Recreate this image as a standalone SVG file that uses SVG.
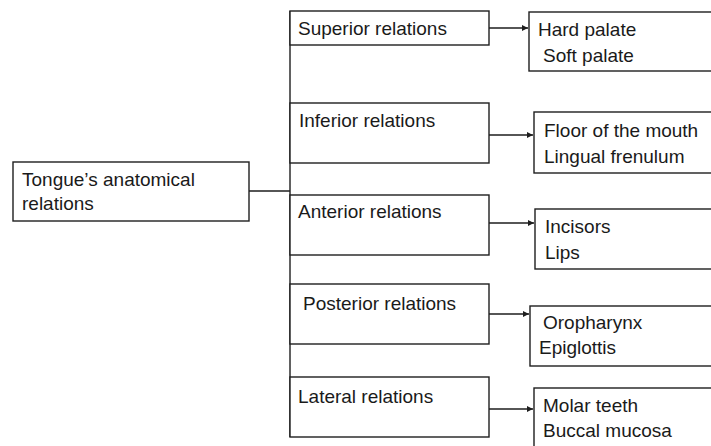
<svg xmlns="http://www.w3.org/2000/svg" width="711" height="446" viewBox="0 0 711 446">
<style>
.box{fill:#fff;stroke:#1e1e1e;stroke-width:1.4}
.t{font-family:"Liberation Sans",Arial,sans-serif;font-size:19px;fill:#1a1a1a}
.c{fill:none;stroke:#1e1e1e;stroke-width:1.4}
</style>
<defs>
<marker id="ah" markerWidth="8" markerHeight="8" refX="6" refY="3" orient="auto" markerUnits="userSpaceOnUse">
<path d="M0,0 L6,3 L0,6 Z" fill="#1e1e1e"/>
</marker>
</defs>
<rect width="711" height="446" fill="#fff"/>
<g id="connectors">
<path class="c" d="M249,191 H290"/>
<path class="c" d="M290,11 V437"/>
<path class="c" d="M489,28 H528" marker-end="url(#ah)"/>
<path class="c" d="M489,135 H533" marker-end="url(#ah)"/>
<path class="c" d="M489,223 H534" marker-end="url(#ah)"/>
<path class="c" d="M489,314 H529" marker-end="url(#ah)"/>
<path class="c" d="M489,409 H533" marker-end="url(#ah)"/>
</g>
<g id="root">
<rect class="box" x="13" y="162" width="236" height="59"/>
<text class="t" x="22" y="186">Tongue’s anatomical</text>
<text class="t" x="22" y="210">relations</text>
</g>
<g id="superior">
<rect class="box" x="290" y="11" width="199" height="34"/>
<text class="t" x="298" y="35">Superior relations</text>
</g>
<g id="inferior">
<rect class="box" x="290" y="103" width="199" height="60"/>
<text class="t" x="299" y="127">Inferior relations</text>
</g>
<g id="anterior">
<rect class="box" x="290" y="195" width="199" height="60"/>
<text class="t" x="298" y="218">Anterior relations</text>
</g>
<g id="posterior">
<rect class="box" x="290" y="284" width="199" height="60"/>
<text class="t" x="303" y="310">Posterior relations</text>
</g>
<g id="lateral">
<rect class="box" x="290" y="377" width="199" height="60"/>
<text class="t" x="298" y="403">Lateral relations</text>
</g>
<g id="palate">
<rect class="box" x="529" y="12" width="190" height="59"/>
<text class="t" x="538" y="36">Hard palate</text>
<text class="t" x="543" y="62">Soft palate</text>
</g>
<g id="floor">
<rect class="box" x="534" y="112" width="190" height="61"/>
<text class="t" x="544" y="137">Floor of the mouth</text>
<text class="t" x="544" y="163">Lingual frenulum</text>
</g>
<g id="incisors">
<rect class="box" x="535" y="209" width="190" height="60"/>
<text class="t" x="545" y="233">Incisors</text>
<text class="t" x="545" y="259">Lips</text>
</g>
<g id="oropharynx">
<rect class="box" x="530" y="306" width="190" height="60"/>
<text class="t" x="543" y="329">Oropharynx</text>
<text class="t" x="539" y="354">Epiglottis</text>
</g>
<g id="molar">
<rect class="box" x="534" y="388" width="190" height="70"/>
<text class="t" x="543" y="412">Molar teeth</text>
<text class="t" x="543" y="437">Buccal mucosa</text>
</g>
</svg>
